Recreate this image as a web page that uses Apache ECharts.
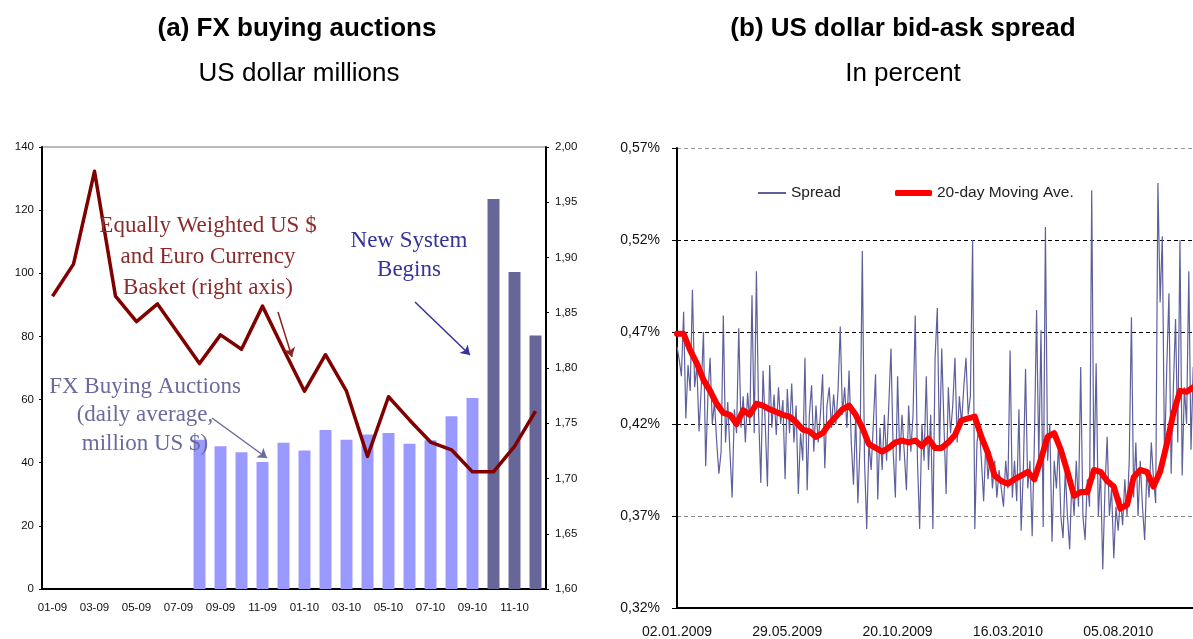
<!DOCTYPE html>
<html>
<head>
<meta charset="utf-8">
<script src="https://cdn.jsdelivr.net/npm/echarts@6/dist/echarts.min.js"></script>
<style>
  html, body { margin: 0; padding: 0; background: #fff; }
  #main { width: 1193px; height: 639px; }
</style>
</head>
<body>
<div id="main"></div>
<script>
// (a) monthly data
var months = ['01-09','02-09','03-09','04-09','05-09','06-09','07-09','08-09','09-09','10-09','11-09','12-09',
              '01-10','02-10','03-10','04-10','05-10','06-10','07-10','08-10','09-10','10-10','11-10','12-10'];
var auctions = [null, null, null, null, null, null, null, 47.3, 45.2, 43.3, 40.2, 46.3,
                43.9, 50.4, 47.3, 48.9, 49.4, 46.0, 47.1, 54.7, 60.5, 123.5, 100.4, 80.3];
var basket = [1.865, 1.894, 1.978, 1.865, 1.842, 1.858, 1.831, 1.804, 1.830, 1.817, 1.856, 1.817,
              1.779, 1.812, 1.779, 1.720, 1.774, 1.753, 1.733, 1.726, 1.706, 1.706, 1.729, 1.761];
var newSystemFrom = 21; // first month of the new system (10-10)

// (b) daily spread, every 2nd trading day, in percent
var spreadStep = 2;
var spread = [
  0.462, 0.455, 0.446, 0.481, 0.423, 0.452, 0.438, 0.493, 0.440, 0.452,
  0.416, 0.440, 0.470, 0.397, 0.435, 0.456, 0.420, 0.432, 0.410, 0.393,
  0.405, 0.479, 0.410, 0.432, 0.405, 0.380, 0.428, 0.415, 0.472, 0.418,
  0.435, 0.410, 0.437, 0.420, 0.490, 0.415, 0.503, 0.425, 0.388, 0.449,
  0.420, 0.386, 0.452, 0.418, 0.436, 0.414, 0.440, 0.420, 0.433, 0.390,
  0.439, 0.415, 0.442, 0.410, 0.430, 0.382, 0.415, 0.400, 0.456, 0.384,
  0.425, 0.441, 0.405, 0.430, 0.410, 0.425, 0.447, 0.396, 0.430, 0.440,
  0.418, 0.436, 0.420, 0.438, 0.473, 0.425, 0.440, 0.418, 0.449, 0.410,
  0.387, 0.425, 0.377, 0.410, 0.514, 0.400, 0.363, 0.410, 0.395, 0.420,
  0.447, 0.379, 0.418, 0.395, 0.425, 0.400, 0.430, 0.461, 0.405, 0.380,
  0.446, 0.400, 0.425, 0.405, 0.384, 0.430, 0.405, 0.425, 0.479, 0.400,
  0.363, 0.420, 0.400, 0.446, 0.395, 0.425, 0.363, 0.456, 0.483, 0.405,
  0.461, 0.420, 0.382, 0.440, 0.415, 0.430, 0.456, 0.410, 0.435, 0.420,
  0.440, 0.456, 0.425, 0.435, 0.520, 0.363, 0.410, 0.420, 0.400, 0.378,
  0.410, 0.390, 0.405, 0.385, 0.400, 0.380, 0.395, 0.385, 0.375, 0.400,
  0.385, 0.460, 0.380, 0.400, 0.378, 0.428, 0.362, 0.395, 0.450, 0.385,
  0.400, 0.359, 0.410, 0.482, 0.400, 0.471, 0.364, 0.527, 0.400, 0.420,
  0.356, 0.400, 0.385, 0.410, 0.370, 0.358, 0.395, 0.370, 0.352, 0.390,
  0.370, 0.400, 0.375, 0.451, 0.370, 0.357, 0.390, 0.375, 0.547, 0.390,
  0.453, 0.370, 0.395, 0.341, 0.385, 0.413, 0.370, 0.385, 0.347, 0.375,
  0.362, 0.380, 0.365, 0.390, 0.370, 0.400, 0.478, 0.380, 0.410, 0.370,
  0.400, 0.375, 0.357, 0.395, 0.380, 0.410, 0.390, 0.377, 0.551, 0.486,
  0.522, 0.400, 0.450, 0.491, 0.393, 0.440, 0.477, 0.410, 0.520, 0.392,
  0.440, 0.420, 0.503, 0.406, 0.451, 0.430, 0.460
];

// 20-day moving average, every 6th trading day
var maStep = 6;
var movingAve = [
  0.469, 0.469, 0.460, 0.453, 0.444, 0.438, 0.431, 0.426, 0.425, 0.420,
  0.4275, 0.425, 0.431, 0.430, 0.428, 0.4265, 0.425, 0.424, 0.421, 0.417,
  0.416, 0.413, 0.415, 0.420, 0.424, 0.428, 0.430, 0.425, 0.418, 0.409,
  0.407, 0.405, 0.407, 0.410, 0.411, 0.410, 0.411, 0.408, 0.412, 0.407,
  0.407, 0.410, 0.414, 0.422, 0.423, 0.424, 0.413, 0.404, 0.392, 0.389,
  0.3875, 0.390, 0.392, 0.394, 0.390, 0.401, 0.413, 0.415, 0.406, 0.394,
  0.381, 0.383, 0.383, 0.395, 0.394, 0.389, 0.386, 0.374, 0.376, 0.391,
  0.395, 0.394, 0.386, 0.394, 0.409, 0.4256, 0.438, 0.4375, 0.440, 0.441
];

// date labels every 100 trading days
var dateTicks = ['02.01.2009', '29.05.2009', '20.10.2009', '16.03.2010', '05.08.2010'];

var lightBar = '#9999ff';
var darkBar = '#666699';

var chart = echarts.init(document.getElementById('main'));

var option = {
    backgroundColor: '#fff',
    animation: false,
    textStyle: { fontFamily: 'Liberation Sans, Arial, sans-serif' },
    grid: [
        { left: 42, right: 647, top: 147, bottom: 50, outerBoundsMode: 'none', show: true, borderColor: '#777', borderWidth: 1, backgroundColor: 'transparent' },
        // panel (b) runs past the right edge of the picture, as in the source
        { left: 677, width: 551.5, top: 148, bottom: 31, outerBoundsMode: 'none' }
    ],
    legend: [
        {
            data: ['Spread'], left: 758, top: 185, padding: 0,
            icon: 'rect', itemWidth: 28, itemHeight: 2,
            textStyle: { fontSize: 15.5, color: '#222' }
        },
        {
            data: ['20-day Moving Ave.'], left: 895, top: 185, padding: 0,
            icon: 'roundRect', itemWidth: 37, itemHeight: 6,
            textStyle: { fontSize: 15.5, color: '#222' }
        }
    ],
    xAxis: [
        {
            type: 'category', gridIndex: 0, data: months, boundaryGap: true,
            axisLine: { lineStyle: { color: '#000', width: 2 } },
            axisTick: { interval: 1, length: 3, lineStyle: { color: '#000' } },
            axisLabel: { interval: 1, fontSize: 11.5, color: '#111', margin: 13 }
        },
        {
            type: 'value', gridIndex: 1, min: 0, max: 500, interval: 100,
            splitLine: { show: false },
            axisLine: { lineStyle: { color: '#000', width: 2 } },
            axisTick: { show: false },
            axisLabel: {
                fontSize: 14, color: '#111', margin: 17,
                formatter: function (v) { return dateTicks[Math.round(v / 100)] || ''; }
            }
        }
    ],
    yAxis: [
        {
            type: 'value', gridIndex: 0, min: 0, max: 140, interval: 20,
            splitLine: { show: false },
            axisLine: { show: true, lineStyle: { color: '#000', width: 2 } },
            axisTick: { show: true, length: 3, lineStyle: { color: '#000' } },
            axisLabel: { fontSize: 11.5, color: '#111', margin: 8 }
        },
        {
            type: 'value', gridIndex: 0, position: 'right', min: 1.6, max: 2.0, interval: 0.05,
            splitLine: { show: false },
            axisLine: { show: true, lineStyle: { color: '#000', width: 2 } },
            axisTick: { show: true, length: 3, lineStyle: { color: '#000' } },
            axisLabel: {
                fontSize: 11.5, color: '#111', margin: 9,
                formatter: function (v) { return v.toFixed(2).replace('.', ','); }
            }
        },
        {
            type: 'value', gridIndex: 1, min: 0.32, max: 0.57, interval: 0.05,
            axisLine: { show: true, lineStyle: { color: '#000', width: 2 } },
            axisTick: { show: true, length: 5, lineStyle: { color: '#000' } },
            splitLine: {
                show: true,
                lineStyle: { type: [4, 3], width: 1, color: ['#000', '#888', '#000', '#000', '#000', '#999'] }
            },
            axisLabel: {
                fontSize: 14, color: '#111', margin: 17,
                formatter: function (v) { return v.toFixed(2).replace('.', ',') + '%'; }
            }
        }
    ],
    series: [
        {
            name: 'FX buying auctions', type: 'bar', xAxisIndex: 0, yAxisIndex: 0,
            data: auctions, barWidth: '57%',
            itemStyle: {
                color: function (p) { return p.dataIndex >= newSystemFrom ? darkBar : lightBar; }
            }
        },
        {
            name: 'Basket', type: 'line', xAxisIndex: 0, yAxisIndex: 1,
            data: basket, symbol: 'none', z: 3,
            lineStyle: { color: '#800000', width: 3.5, join: 'round' },
            markLine: {
                silent: true, symbol: ['none', 'arrow'], symbolSize: 9,
                label: { show: false },
                data: [
                    [{ x: 278, y: 312, lineStyle: { color: '#8b2323', width: 1.5, type: 'solid' } }, { x: 292, y: 357 }],
                    [{ x: 415, y: 302, lineStyle: { color: '#333399', width: 1.5, type: 'solid' } }, { x: 470, y: 355 }],
                    [{ x: 212, y: 418, lineStyle: { color: '#6a6a9e', width: 1.5, type: 'solid' } }, { x: 267, y: 458 }]
                ]
            }
        },
        {
            name: 'Spread', type: 'line', xAxisIndex: 1, yAxisIndex: 2,
            data: spread.map(function (v, i) { return [i * spreadStep, v]; }),
            symbol: 'none', color: '#5f5f9c',
            lineStyle: { color: '#5f5f9c', width: 1.2 }
        },
        {
            name: '20-day Moving Ave.', type: 'line', xAxisIndex: 1, yAxisIndex: 2,
            data: movingAve.map(function (v, i) { return [i * maStep, v]; }),
            symbol: 'none', color: '#ff0000', z: 4,
            lineStyle: { color: '#ff0000', width: 6, cap: 'round', join: 'round' }
        }
    ],
    graphic: [
        { type: 'text', x: 297, y: 29, z: 100, style: { text: '(a) FX buying auctions', fontSize: 26, fontWeight: 'bold', fontFamily: 'Liberation Sans', fill: '#000', align: 'center', verticalAlign: 'middle' } },
        { type: 'text', x: 299, y: 74, z: 100, style: { text: 'US dollar millions', fontSize: 26, fontFamily: 'Liberation Sans', fill: '#000', align: 'center', verticalAlign: 'middle' } },
        { type: 'text', x: 903, y: 29, z: 100, style: { text: '(b) US dollar bid-ask spread', fontSize: 26, fontWeight: 'bold', fontFamily: 'Liberation Sans', fill: '#000', align: 'center', verticalAlign: 'middle' } },
        { type: 'text', x: 903, y: 74, z: 100, style: { text: 'In percent', fontSize: 26, fontFamily: 'Liberation Sans', fill: '#000', align: 'center', verticalAlign: 'middle' } },
        { type: 'text', x: 208, y: 257, z: 100, style: { text: 'Equally Weighted US $\nand Euro Currency\nBasket (right axis)', fontSize: 23, lineHeight: 31, fontFamily: 'Liberation Serif', fill: '#8b2a2a', align: 'center', verticalAlign: 'middle' } },
        { type: 'text', x: 409, y: 255, z: 100, style: { text: 'New System\nBegins', fontSize: 23, lineHeight: 29, fontFamily: 'Liberation Serif', fill: '#333399', align: 'center', verticalAlign: 'middle' } },
        { type: 'text', x: 145, y: 415, z: 100, style: { text: 'FX Buying Auctions\n(daily average,\nmillion US $)', fontSize: 23, lineHeight: 28.5, fontFamily: 'Liberation Serif', fill: '#6a6a9e', align: 'center', verticalAlign: 'middle' } }
    ]
};

chart.setOption(option);
</script>
</body>
</html>
